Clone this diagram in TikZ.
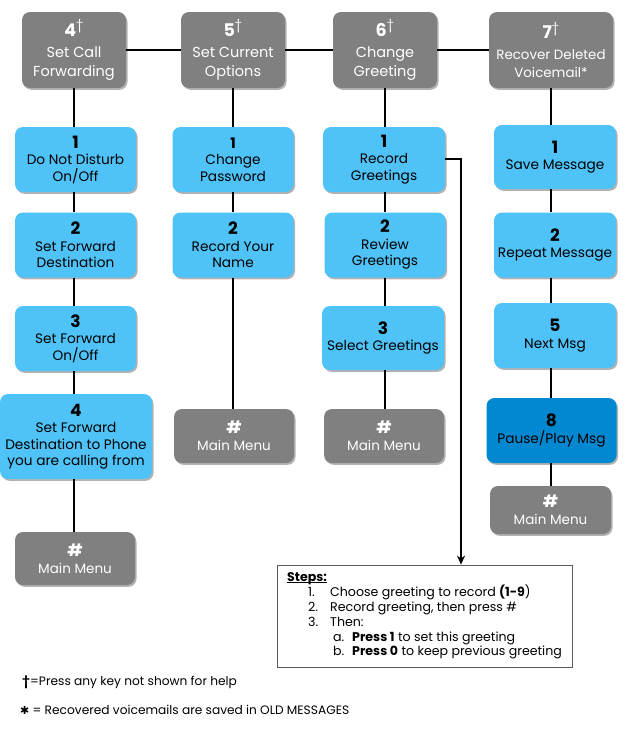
\documentclass[tikz,border=0pt]{standalone}
\usepackage{fontspec}
\setmainfont{Poppins}
\newfontfamily\symfont{DejaVu Sans}
\usetikzlibrary{shadows,arrows.meta}
\definecolor{boxgray}{RGB}{128,128,128}
\definecolor{lblue}{RGB}{79,195,247}
\definecolor{dblue}{RGB}{2,136,209}
\definecolor{framegray}{RGB}{90,90,90}
\tikzset{
  mbox/.style={rounded corners=8pt, align=center, inner sep=0pt,
    drop shadow={shadow xshift=1.5pt, shadow yshift=-1.8pt, opacity=0.3, fill=black}},
  gbox/.style={mbox, fill=boxgray, text=white, font=\fontsize{14.5}{19}\selectfont},
  mmbox/.style={mbox, fill=boxgray, text=white, font=\fontsize{13.5}{17}\selectfont},
  bbox/.style={mbox, fill=lblue, text=black, font=\fontsize{13.7}{16.5}\selectfont},
  dbox/.style={mbox, fill=dblue, text=black, font=\fontsize{13.7}{16.5}\selectfont},
  conn/.style={line width=1.5pt, black},
  stepline/.style={anchor=base west, inner sep=0pt, font=\fontsize{12.6}{14}\selectfont},
  note/.style={anchor=west, inner sep=0pt, font=\fontsize{12.2}{14}\selectfont},
}
\newcommand{\num}[1]{{\fontsize{17}{18}\selectfont\bfseries #1}}
\newcommand{\tnum}[1]{{\fontsize{17.5}{18}\selectfont\bfseries #1\textsuperscript{\normalfont\fontsize{13}{14}\selectfont †}}}
\newcommand{\myul}[1]{\setbox0\hbox{#1}\rlap{\rule[-2pt]{\wd0}{0.9pt}}\box0}
\begin{document}
\begin{tikzpicture}[x=1pt,y=-1pt]
\useasboundingbox (0,0) rectangle (632,731);
% top row
\node[gbox, minimum width=104pt, minimum height=76pt] (m4) at (74,50) {\tnum{4}\\[2.5pt] Set Call\\ Forwarding};
\node[gbox, minimum width=104pt, minimum height=76pt] (m5) at (233,50) {\tnum{5}\\[2.5pt] Set Current\\ Options};
\node[gbox, minimum width=104pt, minimum height=76pt] (m6) at (385,50) {\tnum{6}\\[2.5pt] Change\\ Greeting};
\node[gbox, minimum width=124pt, minimum height=76pt, font=\fontsize{13.4}{18}\selectfont] (m7) at (551,50) {\tnum{7}\\[2.5pt] Recover Deleted\\ Voicemail*};
% column 1
\node[bbox, minimum width=121pt, minimum height=65pt] (c1a) at (75.5,159.5) {\num{1}\\ Do Not Disturb\\ On/Off};
\node[bbox, minimum width=121pt, minimum height=65pt] (c1b) at (75.5,245) {\num{2}\\ Set Forward\\ Destination};
\node[bbox, minimum width=121pt, minimum height=65pt] (c1c) at (75.5,338.5) {\num{3}\\ Set Forward\\ On/Off};
\node[bbox, minimum width=152pt, minimum height=85pt] (c1d) at (76,436.5) {\num{4}\\ Set Forward\\ Destination to Phone\\ you are calling from};
\node[mmbox, minimum width=120pt, minimum height=53pt] (c1e) at (75,558.5) {\num{\#}\\ Main Menu};
% column 2
\node[bbox, minimum width=121pt, minimum height=65pt] (c2a) at (233,159.5) {{\fontsize{14.5}{16}\selectfont\bfseries 1}\\ Change\\ Password};
\node[bbox, minimum width=121pt, minimum height=65pt] (c2b) at (233,245) {\num{2}\\ Record Your\\ Name};
\node[mmbox, minimum width=120pt, minimum height=54pt] (c2c) at (234,436) {\num{\#}\\ Main Menu};
% column 3
\node[bbox, minimum width=122pt, minimum height=65pt] (c3a) at (384,159.5) {\num{1}\\ Record\\ Greetings};
\node[bbox, minimum width=121pt, minimum height=65pt] (c3b) at (385,245) {\num{2}\\ Review\\ Greetings};
\node[bbox, minimum width=122pt, minimum height=64pt] (c3c) at (383,338) {\num{3}\\ Select Greetings};
\node[mmbox, minimum width=120pt, minimum height=54pt] (c3d) at (384,436) {\num{\#}\\ Main Menu};
% column 4
\node[bbox, minimum width=122pt, minimum height=64pt] (c4a) at (555,157) {\num{1}\\ Save Message};
\node[bbox, minimum width=122pt, minimum height=65pt] (c4b) at (555,245) {\num{2}\\ Repeat Message};
\node[bbox, minimum width=122pt, minimum height=65pt] (c4c) at (555,335.5) {\num{5}\\ Next Msg};
\node[dbox, minimum width=130pt, minimum height=65pt] (c4d) at (551.5,430.5) {\num{8}\\ Pause/Play Msg};
\node[mmbox, minimum width=121pt, minimum height=48pt] (c4e) at (550.5,510) {\num{\#}\\ Main Menu};
% steps box
\node[draw=framegray, line width=0.8pt, minimum width=295pt, minimum height=102pt, inner sep=0pt] (steps) at (424.5,616) {};
\node[stepline] (s0) at (287,581) {\bfseries\myul{Steps:}};
\node[stepline] (s1n) at (308,596.5) {1.};
\node[stepline] (s1) at (330,596.5) {Choose greeting to record {\bfseries(1-9})};
\node[stepline] (s2n) at (308,611) {2.};
\node[stepline] (s2) at (330,611) {Record greeting, then press \#};
\node[stepline] (s3n) at (308,626) {3.};
\node[stepline] (s3) at (330,626) {Then:};
\node[stepline] (sa) at (333,641) {a.};
\node[stepline] (sat) at (352,641) {\textbf{Press 1} to set this greeting};
\node[stepline] (sb) at (333,655) {b.};
\node[stepline] (sbt) at (352,655) {\textbf{Press 0} to keep previous greeting};
% footnotes
\node[note] (n1) at (22,682) {\textbf{†}=Press any key not shown for help};
\node[note] (n2) at (20,710) {{\symfont\fontsize{11}{12}\selectfont ✱} = Recovered voicemails are saved in OLD MESSAGES};
% connectors
\draw[conn] (m4.east) -- (m5.west);
\draw[conn] (m5.east) -- (m6.west);
\draw[conn] (m6.east) -- (m7.west);
\draw[conn] (m4.south) -- (m4.south |- c1a.north);
\draw[conn] (m4.south |- c1a.south) -- (m4.south |- c1b.north);
\draw[conn] (m4.south |- c1b.south) -- (m4.south |- c1c.north);
\draw[conn] (m4.south |- c1c.south) -- (m4.south |- c1d.north);
\draw[conn] (m4.south |- c1d.south) -- (m4.south |- c1e.north);
\draw[conn] (m5.south) -- (m5.south |- c2a.north);
\draw[conn] (m5.south |- c2a.south) -- (m5.south |- c2b.north);
\draw[conn] (m5.south |- c2b.south) -- (m5.south |- c2c.north);
\draw[conn] (m6.south) -- (m6.south |- c3a.north);
\draw[conn] (m6.south |- c3a.south) -- (m6.south |- c3b.north);
\draw[conn] (m6.south |- c3b.south) -- (m6.south |- c3c.north);
\draw[conn] (m6.south |- c3c.south) -- (m6.south |- c3d.north);
\draw[conn] (m7.south) -- (m7.south |- c4a.north);
\draw[conn] (m7.south |- c4a.south) -- (m7.south |- c4b.north);
\draw[conn] (m7.south |- c4b.south) -- (m7.south |- c4c.north);
\draw[conn] (m7.south |- c4c.south) -- (m7.south |- c4d.north);
\draw[conn] (m7.south |- c4d.south) -- (m7.south |- c4e.north);
\coordinate (bend) at (461,159);
\draw[conn, -{Stealth[length=9pt,width=8pt]}] (c3a.east |- bend) -- (bend) -- (bend |- steps.north);
\end{tikzpicture}
\end{document}
